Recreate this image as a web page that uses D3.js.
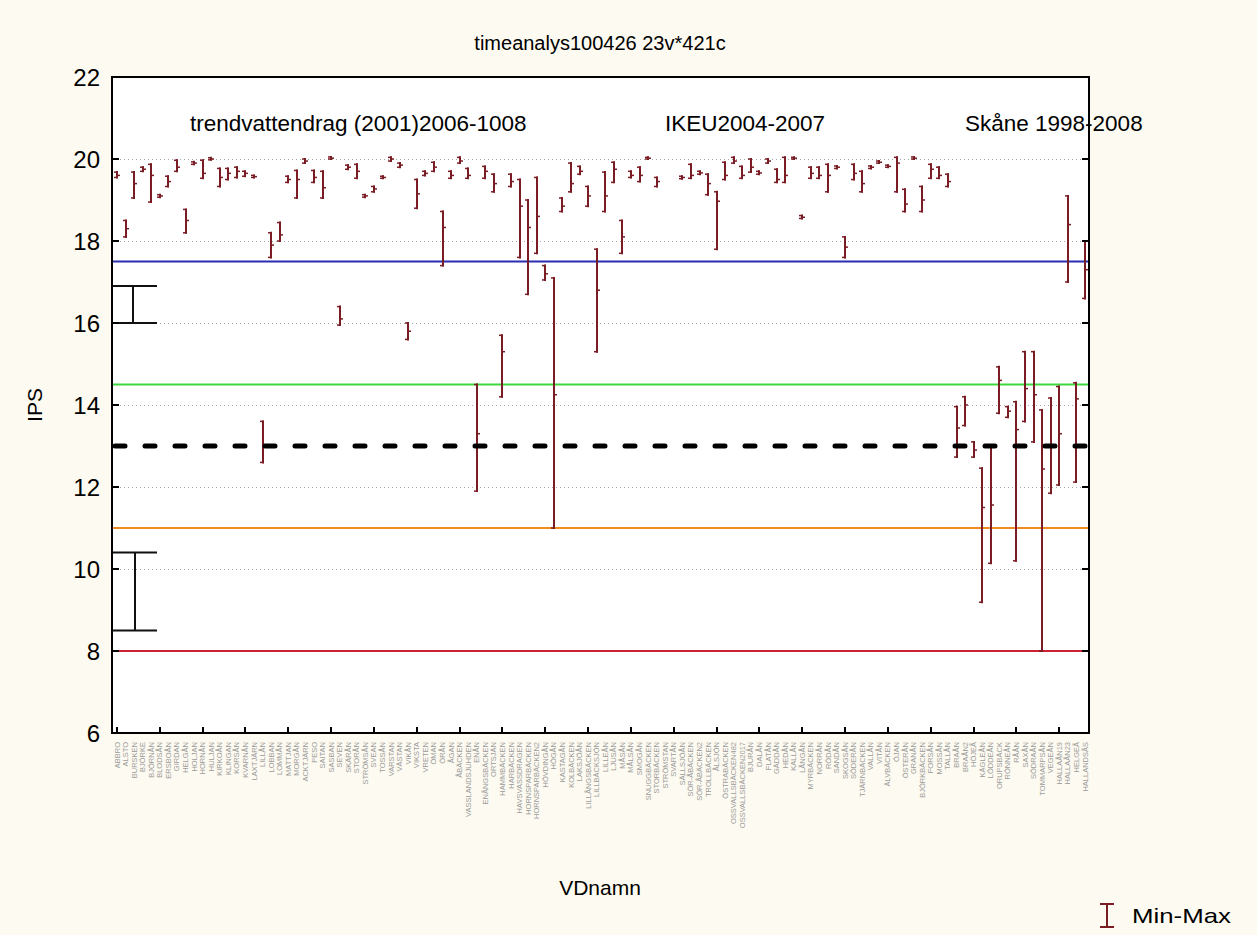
<!DOCTYPE html>
<html>
<head>
<meta charset="utf-8">
<script src="https://cdn.jsdelivr.net/npm/d3@7"></script>
<style>
  body { margin: 0; background: #fdfbf1; }
  text { font-family: "Liberation Sans", Arial, sans-serif; }
</style>
</head>
<body>
<div id="chart"></div>
<script>
// VDnamn categories (x axis)
var categories = [
  "ABBRO","ALSTO","BURSKEN","BJÖRKE","BJÖRNÅN","BLODSÅN","ERSBOÅN","GIRDAN","HELGÅN","HOLJAN",
  "HORNÅN","HULJAN","KIRKOÅN","KLINGAN","KORSÅN","KVARNÅN","LAXTJÄRN","LILLÅN","LOBBAN","LOMMÅN",
  "MATTJAN","MORGÅN","ACKTJÄRN","PESO","SAITAN","SASBAN","SEVEN","SKÄRÅN","STORÅN","STRÖMSÅN",
  "SVEAN","TOSSÅN","VARSTAN","VÄSTAN","VIKÅN","VIKSTA","VRETEN","ÖMAN","ÖRÅN","ÅGAN",
  "ÅBÄCKEN","VASSLANDSJUHDEN","ENÅN","ENÅNGSBÄCKEN","ORTSJÄN","HAMMBÄCKEN","HARBÄCKEN","HAVSVASSDRAGEN","HORNSPARBÄCKEN","HORNSPARBÄCKEN2",
  "HÖVDINGÅN","HÖGÅN","KASTAGÅN","KOLBÄCKEN","LAKSJÖÅN","LILLÅNGSBÄCKEN","LILLBÄCKSJÖN","LILLEÅN","LJUSÅN","MÅSÅN",
  "MÅLSÅN","SMOGÅN","SNUGGBÄCKEN","STORBÄCKEN","STRÖMSTAN","SVARTÅN","SÄLLSJÖÅN","SÖR-ÅBÄCKEN","SÖR-ÅBÄCKEN2","TROLLBÄCKEN",
  "ÅLSJÖN","ÖSTRABÄCKEN","OSSVALLSBÄCKEN482","OSSVALLSBÄCKEN2017","BJURÅN","DALÅN","FLATÅN","GÄDDÅN","HEDÅN","KALLÅN",
  "LÅNGÅN","MYRBÄCKEN","NORRÅN","RÖDÅN","SANDÅN","SKOGSÅN","SÖDERÅN","TJÄRNBÄCKEN","VALLÅN","VITÅN",
  "ÄLVBÄCKEN","ÖJAN","ÖSTERÅN","GRANÅN","BJÖRKBÄCKEN","FORSÅN","MOSSÅN","TALLÅN","BRAÅN","BRAÅN2",
  "HÖJEÅ","KÄGLEÅN","LÖDDEÅN","ORUPSBÄCK","RÖNNEÅN","RÅÅN","SAXÅN","SÖDRAÅN","TOMMARPSÅN","VEGEÅN",
  "HALLAÅN19","HALLAÅN23","HELGEÅ","HALLANDSÅS"
];

// IPS per VDnamn: min, max and median (null = no samples)
var minVals = [19.55,18.1,19.05,19.7,18.95,19.07,19.33,19.7,18.2,19.87,
  19.53,19.98,19.33,19.5,19.55,19.58,19.55,12.6,17.6,18.0,
  19.43,19.05,19.9,19.43,19.05,20.0,15.95,19.75,19.53,19.07,
  19.2,19.53,19.95,19.8,15.6,18.8,19.6,19.7,17.4,19.53,
  19.9,19.53,11.9,19.53,19.2,14.2,19.33,17.6,16.7,17.7,
  17.05,11.0,18.72,19.2,19.63,18.85,15.3,18.72,19.43,17.7,
  19.55,19.45,20.0,19.33,null,null,19.52,19.53,19.63,19.13,
  17.8,19.5,19.9,19.53,19.68,19.63,19.9,19.43,19.43,20.0,
  18.55,19.53,19.53,19.2,19.77,17.6,19.5,19.2,19.77,19.9,
  19.8,19.2,18.72,20.0,18.72,19.53,19.53,19.33,12.73,13.5,
  12.73,9.19,10.14,13.8,13.7,10.2,13.6,13.1,8.0,11.85,
  12.05,17.0,12.12,16.6];
var maxVals = [19.68,18.5,19.68,19.8,19.87,19.13,19.58,19.97,18.77,19.93,
  19.97,20.03,19.77,19.77,19.8,19.7,19.6,13.6,18.2,18.45,
  19.58,19.72,20.0,19.72,19.7,20.05,16.4,19.85,19.87,19.13,
  19.33,19.58,20.04,19.9,16.0,19.5,19.7,19.92,18.72,19.7,
  20.04,19.77,14.5,19.82,19.63,15.7,19.63,19.5,19.0,19.55,
  17.4,17.1,19.05,19.9,19.82,19.33,17.8,19.68,19.92,18.5,
  19.7,19.8,20.04,19.55,null,null,19.58,19.87,19.7,19.63,
  19.2,19.92,20.04,19.82,20.0,19.7,20.0,19.75,20.04,20.04,
  18.62,19.8,19.8,19.87,19.83,18.1,19.87,19.7,19.83,19.95,
  19.85,20.04,19.26,20.05,19.33,19.87,19.8,19.63,13.96,14.2,
  13.1,12.46,13.0,14.93,13.96,14.08,15.3,15.3,13.88,14.17,
  14.45,19.1,14.54,18.0];
var medVals = [19.6,18.3,19.4,19.75,19.6,19.1,19.45,19.8,18.5,19.9,
  19.65,20.0,19.55,19.65,19.7,19.65,19.57,13.0,17.9,18.15,
  19.5,19.5,19.95,19.55,19.3,20.02,16.1,19.8,19.7,19.1,
  19.27,19.55,20.0,19.85,15.8,19.15,19.65,19.8,18.33,19.6,
  19.95,19.6,13.3,19.7,19.4,15.3,19.45,18.85,18.33,18.6,
  17.2,14.25,18.85,19.4,19.7,19.1,16.8,19.1,19.75,18.1,
  19.6,19.6,20.02,19.45,null,null,19.55,19.6,19.66,19.4,
  18.97,19.6,19.95,19.6,19.8,19.66,19.95,19.5,19.6,20.02,
  18.58,19.65,19.6,19.6,19.8,17.85,19.65,19.4,19.8,19.92,
  19.82,19.9,18.9,20.02,19.0,19.75,19.6,19.45,13.44,14.0,
  12.9,11.5,11.56,14.6,13.85,13.4,14.4,14.25,12.44,13.0,
  13.3,18.4,14.15,17.3];

// class limits (horizontal lines)
var limitVals = [17.5, 14.5, 11, 8];
var limitColors = ["#2b2bb4", "#3fd83f", "#f08c1e", "#cc2233"];
var targetVal = 13;

// reference ranges drawn at the left edge
var refMin = [16.0, 8.5];
var refMax = [16.9, 10.4];

var yTicks = [6, 8, 10, 12, 14, 16, 18, 20, 22];
var gridTicks = [10, 12, 14, 16, 18, 20];

var notes = ["trendvattendrag (2001)2006-1008", "IKEU2004-2007", "Skåne 1998-2008"];
var noteX = [190, 665, 965];

var W = 1257, H = 935;
var pLeft = 112, pRight = 1089, pTop = 77, pBottom = 733;
var barColor = "#7a1c24";

var svg = d3.select("#chart").append("svg")
    .attr("width", W)
    .attr("height", H)
    .style("background", "#fdfbf1")

svg.append("rect")
    .attr("x", pLeft).attr("y", pTop)
    .attr("width", pRight - pLeft).attr("height", pBottom - pTop)
    .attr("fill", "#ffffff")

var x = d3.scalePoint().domain(categories).range([117, 1085])
var y = d3.scaleLinear().domain([6, 22]).range([pBottom, pTop])

// dotted grid
svg.selectAll(".grid")
    .data(gridTicks)
    .enter().append("line")
    .attr("class", "grid")
    .attr("x1", pLeft).attr("x2", pRight)
    .attr("y1", function (d) { return Math.round(y(d)) + 0.5 })
    .attr("y2", function (d) { return Math.round(y(d)) + 0.5 })
    .attr("stroke", "#a8a8a8")
    .attr("stroke-width", 1)
    .attr("stroke-dasharray", "1,3")

// limit lines
svg.selectAll(".limit")
    .data(limitVals)
    .enter().append("line")
    .attr("class", "limit")
    .attr("x1", pLeft).attr("x2", pRight)
    .attr("y1", function (d) { return y(d) })
    .attr("y2", function (d) { return y(d) })
    .attr("stroke", function (d, i) { return limitColors[i] })
    .attr("stroke-width", 2)

// min-max bars
var bars = categories.map(function (c, i) {
    return { name: c, lo: minVals[i], hi: maxVals[i], med: medVals[i] }
}).filter(function (d) { return d.lo != null })

var g = svg.selectAll(".bar")
    .data(bars)
    .enter().append("g")
    .attr("class", "bar")
    .attr("transform", function (d) { return "translate(" + Math.round(x(d.name)) + ",0)" })

g.append("line")
    .attr("x1", 0).attr("x2", 0)
    .attr("y1", function (d) { return y(d.hi) - 1 })
    .attr("y2", function (d) { return y(d.lo) + 1 })
    .attr("stroke", barColor)
    .attr("stroke-width", 2)

g.append("line")
    .attr("x1", -3).attr("x2", 1)
    .attr("y1", function (d) { return y(d.hi) })
    .attr("y2", function (d) { return y(d.hi) })
    .attr("stroke", barColor).attr("stroke-width", 1.5)

g.append("line")
    .attr("x1", -3).attr("x2", 1)
    .attr("y1", function (d) { return y(d.lo) })
    .attr("y2", function (d) { return y(d.lo) })
    .attr("stroke", barColor).attr("stroke-width", 1.5)

g.append("line")
    .attr("x1", 0).attr("x2", 3)
    .attr("y1", function (d) { return y(d.med) })
    .attr("y2", function (d) { return y(d.med) })
    .attr("stroke", barColor).attr("stroke-width", 1.5)

// target dashed line
svg.append("line")
    .attr("x1", pLeft + 3).attr("x2", pRight - 3)
    .attr("y1", y(targetVal)).attr("y2", y(targetVal))
    .attr("stroke", "#000")
    .attr("stroke-width", 5)
    .attr("stroke-linecap", "round")
    .attr("stroke-dasharray", "10,20")

// reference ranges (black)
var refX = [133, 135];
refMin.forEach(function (lo, i) {
    var hi = refMax[i];
    svg.append("line")
        .attr("x1", refX[i]).attr("x2", refX[i])
        .attr("y1", y(hi)).attr("y2", y(lo))
        .attr("stroke", "#111").attr("stroke-width", 2)
    ;[lo, hi].forEach(function (v) {
        svg.append("line")
            .attr("x1", pLeft).attr("x2", 157)
            .attr("y1", y(v)).attr("y2", y(v))
            .attr("stroke", "#111").attr("stroke-width", 2)
    })
})

// frame
svg.append("rect")
    .attr("x", pLeft).attr("y", pTop)
    .attr("width", pRight - pLeft).attr("height", pBottom - pTop)
    .attr("fill", "none")
    .attr("stroke", "#000")
    .attr("stroke-width", 2)

// y ticks both sides
svg.selectAll(".ytl")
    .data(yTicks)
    .enter().append("line")
    .attr("x1", pLeft).attr("x2", pLeft + 7)
    .attr("y1", function (d) { return y(d) }).attr("y2", function (d) { return y(d) })
    .attr("stroke", "#000").attr("stroke-width", 2)
svg.selectAll(".ytr")
    .data(yTicks)
    .enter().append("line")
    .attr("x1", pRight - 7).attr("x2", pRight)
    .attr("y1", function (d) { return y(d) }).attr("y2", function (d) { return y(d) })
    .attr("stroke", "#000").attr("stroke-width", 2)

svg.selectAll(".ylab")
    .data(yTicks)
    .enter().append("text")
    .attr("x", 100)
    .attr("y", function (d) { return y(d) + 9 })
    .attr("text-anchor", "end")
    .style("font-size", "24px")
    .text(function (d) { return d })

// x ticks every 5 categories
var xTickCats = categories.filter(function (c, i) { return i % 5 === 0 })
svg.selectAll(".xt")
    .data(xTickCats)
    .enter().append("line")
    .attr("x1", function (d) { return Math.round(x(d)) }).attr("x2", function (d) { return Math.round(x(d)) })
    .attr("y1", pBottom - 6).attr("y2", pBottom)
    .attr("stroke", "#000").attr("stroke-width", 2)

// category labels
svg.selectAll(".xlab")
    .data(categories)
    .enter().append("text")
    .attr("transform", function (d) { return "translate(" + (x(d) + 2.5) + "," + (pBottom + 9) + ") rotate(-90)" })
    .attr("text-anchor", "end")
    .style("font-size", "7.5px")
    .attr("fill", "#9a9a9a")
    .text(function (d) { return d })

// titles
svg.append("text")
    .attr("x", 600).attr("y", 50)
    .attr("text-anchor", "middle")
    .style("font-size", "20px")
    .text("timeanalys100426 23v*421c")

svg.append("text")
    .attr("transform", "translate(42,405) rotate(-90)")
    .attr("text-anchor", "middle")
    .style("font-size", "21px")
    .text("IPS")

svg.append("text")
    .attr("x", 600).attr("y", 895)
    .attr("text-anchor", "middle")
    .style("font-size", "21px")
    .text("VDnamn")

svg.selectAll(".note")
    .data(notes)
    .enter().append("text")
    .attr("x", function (d, i) { return noteX[i] })
    .attr("y", 131)
    .style("font-size", "22.5px")
    .text(function (d) { return d })

// legend
var lg = svg.append("g").attr("transform", "translate(1107,903)")
lg.append("line").attr("x1", 0).attr("x2", 0).attr("y1", 1).attr("y2", 24)
    .attr("stroke", barColor).attr("stroke-width", 2)
lg.append("line").attr("x1", -7).attr("x2", 7).attr("y1", 1).attr("y2", 1)
    .attr("stroke", barColor).attr("stroke-width", 2)
lg.append("line").attr("x1", -7).attr("x2", 7).attr("y1", 24).attr("y2", 24)
    .attr("stroke", barColor).attr("stroke-width", 2)
lg.append("text").attr("x", 25).attr("y", 20)
    .style("font-size", "21px")
    .attr("textLength", 99)
    .attr("lengthAdjust", "spacingAndGlyphs")
    .text("Min-Max")
</script>
</body>
</html>
